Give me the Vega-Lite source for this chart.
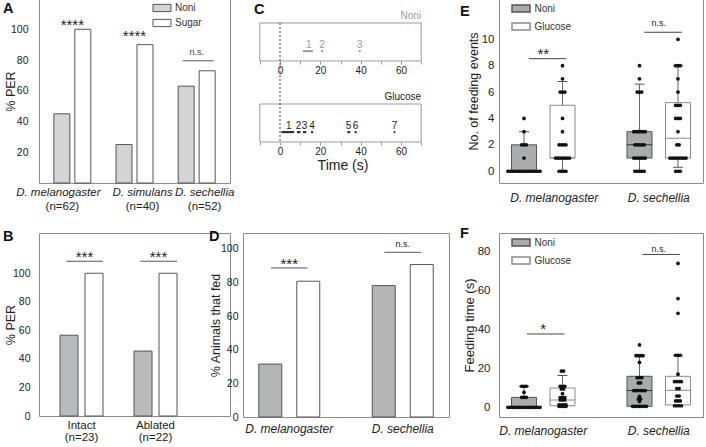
{
"$schema": "https://vega.github.io/schema/vega-lite/v6.json",
"background": "white",
"padding": {"left": 2, "top": -2, "right": 0, "bottom": 0},
"autosize": {"type": "pad"},
"columns": 3,
"spacing": {"row": 50, "column": 13},
"bounds": "flush",
"resolve": {"scale": {"fill": "independent", "color": "independent", "stroke": "independent", "xOffset": "independent"}},
"config": {
  "font": "Liberation Sans",
  "view": {"stroke": "#8c8c8c", "strokeWidth": 1},
  "axis": {"grid": false, "domain": false, "ticks": false, "labelColor": "#222", "titleColor": "#222", "labelFontSize": 10.5, "titleFontSize": 12.5, "titleFontWeight": "normal", "labelFont": "Liberation Sans", "titleFont": "Liberation Sans"},
  "legend": {"labelFontSize": 10, "labelColor": "#333", "labelFont": "Liberation Sans", "padding": 0},
  "title": {"fontSize": 14.5, "fontWeight": "bold", "anchor": "start", "frame": "group", "color": "#111", "baseline": "alphabetic", "offset": 0, "font": "Liberation Sans"},
  "text": {"font": "Liberation Sans"}
},
"concat": [
{
  "width": 191, "height": 184,
  "title": {"text": "A", "dx": -36, "dy": 21.5},
  "resolve": {"axis": {"x": "independent"}},
  "layer": [
    {
      "data": {"values": [
        {"sp": "D. melanogaster", "cond": "Noni", "v": 45},
        {"sp": "D. melanogaster", "cond": "Sugar", "v": 100},
        {"sp": "D. simulans", "cond": "Noni", "v": 25},
        {"sp": "D. simulans", "cond": "Sugar", "v": 90},
        {"sp": "D. sechellia", "cond": "Noni", "v": 63},
        {"sp": "D. sechellia", "cond": "Sugar", "v": 73}
      ]},
      "mark": {"type": "bar", "stroke": "#555", "strokeWidth": 1},
      "encoding": {
        "x": {"field": "sp", "type": "nominal", "scale": {"domain": ["D. melanogaster", "D. simulans", "D. sechellia"], "paddingInner": 0.405, "paddingOuter": 0.239}, "axis": {"orient": "bottom", "title": null, "labelAngle": 0, "labelFontStyle": "italic", "labelFontSize": 11.5, "labelPadding": 3, "labelOffset": {"condition": {"test": "datum.value == 'D. melanogaster'", "value": -14}, "value": 8}}},
        "xOffset": {"field": "cond", "type": "nominal", "scale": {"domain": ["Noni", "Sugar"], "paddingInner": 0.238, "paddingOuter": 0}},
        "y": {"field": "v", "type": "quantitative", "scale": {"domain": [0, 119.7], "nice": false, "zero": false}, "axis": {"title": "% PER", "values": [20, 40, 60, 80, 100], "labelPadding": 11, "titlePadding": -7}},
        "fill": {"field": "cond", "type": "nominal", "scale": {"domain": ["Noni", "Sugar"], "range": ["#d4d4d4", "#ffffff"]}, "legend": {"title": null, "orient": "none", "legendX": 118, "legendY": 4, "symbolType": "M-2,-0.8H2V0.8H-2Z", "symbolSize": 81, "symbolStrokeColor": "#555", "symbolStrokeWidth": 1, "labelOffset": 8, "rowPadding": 3}}
      }
    },
    {
      "data": {"values": [
        {"sp": "D. melanogaster", "v": 99.4, "t": "****"},
        {"sp": "D. simulans", "v": 92.5, "t": "****"}
      ]},
      "mark": {"type": "text", "fontSize": 15, "baseline": "alphabetic", "color": "#222"},
      "encoding": {
        "x": {"field": "sp", "type": "nominal", "scale": {"domain": ["D. melanogaster", "D. simulans", "D. sechellia"], "paddingInner": 0.405, "paddingOuter": 0.239}, "axis": null},
        "y": {"field": "v", "type": "quantitative", "scale": {"domain": [0, 119.7], "nice": false, "zero": false}, "axis": {"title": "% PER", "values": [20, 40, 60, 80, 100], "labelPadding": 11, "titlePadding": -7}},
        "text": {"field": "t"}
      }
    },
    {
      "data": {"values": [{"sp": "D. sechellia", "v": 83.2, "t": "n.s."}]},
      "mark": {"type": "text", "fontSize": 9, "baseline": "alphabetic", "color": "#444"},
      "encoding": {
        "x": {"field": "sp", "type": "nominal", "scale": {"domain": ["D. melanogaster", "D. simulans", "D. sechellia"], "paddingInner": 0.405, "paddingOuter": 0.239}, "axis": {"orient": "bottom", "title": null, "labelAngle": 0, "labelFontSize": 11.5, "labelPadding": 17, "labelOffset": {"condition": {"test": "datum.value == 'D. melanogaster'", "value": -10}, "value": 8}, "labelExpr": "datum.value == 'D. melanogaster' ? '(n=62)' : datum.value == 'D. simulans' ? '(n=40)' : '(n=52)'"}},
        "y": {"field": "v", "type": "quantitative", "scale": {"domain": [0, 119.7], "nice": false, "zero": false}, "axis": {"title": "% PER", "values": [20, 40, 60, 80, 100], "labelPadding": 11, "titlePadding": -7}},
        "text": {"field": "t"}
      }
    },
    {
      "data": {"values": [{"sp": "D. sechellia", "v": 79.5}]},
      "mark": {"type": "rule", "stroke": "#555", "strokeWidth": 1},
      "encoding": {
        "x": {"field": "sp", "type": "nominal", "bandPosition": 0.12, "scale": {"domain": ["D. melanogaster", "D. simulans", "D. sechellia"], "paddingInner": 0.405, "paddingOuter": 0.239}, "axis": null},
        "x2": {"field": "sp", "bandPosition": 0.96},
        "y": {"field": "v", "type": "quantitative", "scale": {"domain": [0, 119.7], "nice": false, "zero": false}, "axis": {"title": "% PER", "values": [20, 40, 60, 80, 100], "labelPadding": 11, "titlePadding": -7}}
      }
    }
  ]
},
{
  "width": 243, "height": 143,
  "view": {"stroke": null},
  "title": {"text": "C", "dx": 11, "dy": 22.5},
  "resolve": {"axis": {"x": "independent"}},
  "layer": [
    {
      "data": {"values": [{"cond": "Noni"}, {"cond": "Glucose"}]},
      "mark": {"type": "rect", "filled": false, "stroke": "#9a9a9a", "strokeWidth": 1},
      "encoding": {
        "x": {"datum": -10, "type": "quantitative", "scale": {"domain": [-18.35, 102.15], "nice": false, "zero": false}, "axis": null},
        "x2": {"datum": 70},
        "y": {"field": "cond", "type": "nominal", "scale": {"domain": ["Noni", "Glucose"], "paddingInner": 0.531, "paddingOuter": 0.148, "align": 1}, "axis": null}
      }
    },
    {
      "data": {"values": [{"cond": "Noni"}, {"cond": "Glucose"}]},
      "mark": {"type": "text", "align": "right", "baseline": "bottom", "dy": -2, "fontSize": 10},
      "encoding": {
        "x": {"datum": 70, "type": "quantitative", "scale": {"domain": [-18.35, 102.15], "nice": false, "zero": false}, "axis": null},
        "y": {"field": "cond", "type": "nominal", "bandPosition": 0, "scale": {"domain": ["Noni", "Glucose"], "paddingInner": 0.531, "paddingOuter": 0.148, "align": 1}, "axis": null},
        "text": {"field": "cond"},
        "color": {"field": "cond", "type": "nominal", "scale": {"domain": ["Noni", "Glucose"], "range": ["#9a9a9a", "#222222"]}, "legend": null}
      }
    },
    {
      "data": {"values": [{"t": 0}]},
      "mark": {"type": "rule", "strokeDash": [2, 2], "stroke": "#444", "strokeWidth": 1},
      "encoding": {
        "x": {"field": "t", "type": "quantitative", "scale": {"domain": [-18.35, 102.15], "nice": false, "zero": false}, "axis": null},
        "y": {"datum": "Noni", "type": "nominal", "bandPosition": 0, "scale": {"domain": ["Noni", "Glucose"], "paddingInner": 0.531, "paddingOuter": 0.148, "align": 1}, "axis": null},
        "y2": {"datum": "Glucose", "bandPosition": 1}
      }
    },
    {
      "data": {"name": "events", "values": [
        {"cond": "Noni", "n": "1", "s": 11.3, "e": 16.3, "m": 14.3},
        {"cond": "Noni", "n": "2", "s": 20.4, "e": 21.4, "m": 20.9},
        {"cond": "Noni", "n": "3", "s": 39.0, "e": 40.0, "m": 39.5},
        {"cond": "Glucose", "n": "1", "s": 0.7, "e": 7.0, "m": 4.4},
        {"cond": "Glucose", "n": "2", "s": 8.4, "e": 10.2, "m": 9.2},
        {"cond": "Glucose", "n": "3", "s": 11.4, "e": 13.0, "m": 12.2},
        {"cond": "Glucose", "n": "4", "s": 15.4, "e": 16.4, "m": 15.9},
        {"cond": "Glucose", "n": "5", "s": 33.4, "e": 34.8, "m": 34.0},
        {"cond": "Glucose", "n": "6", "s": 37.0, "e": 38.0, "m": 37.5},
        {"cond": "Glucose", "n": "7", "s": 56.4, "e": 57.2, "m": 56.8}
      ]},
      "mark": {"type": "rule", "strokeWidth": 2},
      "encoding": {
        "x": {"field": "s", "type": "quantitative", "scale": {"domain": [-18.35, 102.15], "nice": false, "zero": false}, "axis": {"orient": "bottom", "title": "Time (s)", "titleFontSize": 14, "titleX": 99.5, "titleAlign": "center", "titlePadding": 2, "values": [-10, 0, 10, 20, 30, 40, 50, 60, 70], "labelExpr": "datum.value >= 0 && datum.value % 20 == 0 ? datum.label : ''", "ticks": true, "tickSize": 3, "tickColor": "#999", "labelFontSize": 10, "labelPadding": 1}},
        "x2": {"field": "e"},
        "y": {"field": "cond", "type": "nominal", "bandPosition": 0.74, "scale": {"domain": ["Noni", "Glucose"], "paddingInner": 0.531, "paddingOuter": 0.148, "align": 1}, "axis": null},
        "color": {"field": "cond", "type": "nominal", "scale": {"domain": ["Noni", "Glucose"], "range": ["#9a9a9a", "#222222"]}, "legend": null}
      }
    },
    {
      "data": {"name": "events"},
      "mark": {"type": "text", "fontSize": 10, "baseline": "middle"},
      "encoding": {
        "x": {"field": "m", "type": "quantitative", "scale": {"domain": [-18.35, 102.15], "nice": false, "zero": false}, "axis": {"orient": "bottom", "offset": -81, "title": null, "values": [-10, 0, 10, 20, 30, 40, 50, 60, 70], "labelExpr": "datum.value >= 0 && datum.value % 20 == 0 ? datum.label : ''", "ticks": true, "tickSize": 3, "tickColor": "#999", "labelFontSize": 10, "labelPadding": 1}},
        "y": {"field": "cond", "type": "nominal", "bandPosition": 0.58, "scale": {"domain": ["Noni", "Glucose"], "paddingInner": 0.531, "paddingOuter": 0.148, "align": 1}, "axis": null},
        "text": {"field": "n"},
        "color": {"field": "cond", "type": "nominal", "scale": {"domain": ["Noni", "Glucose"], "range": ["#9a9a9a", "#222222"]}, "legend": null}
      }
    }
  ]
},
{
  "width": 204, "height": 184,
  "title": {"text": "E", "dx": -39, "dy": 24},
  "layer": [
    {
      "data": {"name": "eb", "values": [
        {"g": "mel Noni", "cond": "Noni", "q1": 0, "med": 0, "q3": 2, "lo": 0, "hi": 3},
        {"g": "mel Glucose", "cond": "Glucose", "q1": 1, "med": 1, "q3": 5, "lo": 0, "hi": 6.8},
        {"g": "sec Noni", "cond": "Noni", "q1": 1, "med": 2, "q3": 3, "lo": 0, "hi": 6.6},
        {"g": "sec Glucose", "cond": "Glucose", "q1": 1, "med": 2.5, "q3": 5.2, "lo": 0.3, "hi": 8}
      ]},
      "mark": {"type": "rule", "stroke": "#666", "strokeWidth": 1},
      "encoding": {
        "x": {"field": "g", "type": "nominal", "scale": {"domain": ["mel Noni", "D. melanogaster", "mel Glucose", "gap1", "gap2", "gap3", "sec Noni", "D. sechellia", "sec Glucose"], "paddingInner": 0, "paddingOuter": 0.8}, "axis": {"values": ["D. melanogaster", "D. sechellia"], "title": null, "labelAngle": 0, "labelFontStyle": "italic", "labelFontSize": 12, "labelPadding": 9, "labelOffset": {"condition": {"test": "datum.value == 'D. melanogaster'", "value": 11}, "value": 0}}},
        "y": {"field": "lo", "type": "quantitative", "scale": {"domain": [-0.89, 13.05], "nice": false, "zero": false}, "axis": {"title": "No. of feeding events", "values": [0, 2, 4, 6, 8, 10], "labelFontSize": 11.5, "labelPadding": 5, "titlePadding": 0.5}},
        "y2": {"field": "hi"}
      }
    },
    {
      "data": {"name": "eb"},
      "mark": {"type": "bar", "width": 25, "strokeWidth": 1},
      "encoding": {
        "x": {"field": "g", "type": "nominal", "scale": {"domain": ["mel Noni", "D. melanogaster", "mel Glucose", "gap1", "gap2", "gap3", "sec Noni", "D. sechellia", "sec Glucose"], "paddingInner": 0, "paddingOuter": 0.8}, "axis": {"values": ["D. melanogaster", "D. sechellia"], "title": null, "labelAngle": 0, "labelFontStyle": "italic", "labelFontSize": 12, "labelPadding": 9, "labelOffset": {"condition": {"test": "datum.value == 'D. melanogaster'", "value": 11}, "value": 0}}},
        "y": {"field": "q1", "type": "quantitative", "scale": {"domain": [-0.89, 13.05], "nice": false, "zero": false}, "axis": {"title": "No. of feeding events", "values": [0, 2, 4, 6, 8, 10], "labelFontSize": 11.5, "labelPadding": 5, "titlePadding": 0.5}},
        "y2": {"field": "q3"},
        "fill": {"field": "cond", "type": "nominal", "scale": {"domain": ["Noni", "Glucose"], "range": ["#a9acac", "#ffffff"]}, "legend": {"title": null, "orient": "none", "legendX": 16.5, "legendY": 4, "symbolType": "M-2,-0.8H2V0.8H-2Z", "symbolSize": 81, "labelOffset": 8, "rowPadding": 3}},
        "stroke": {"field": "cond", "type": "nominal", "scale": {"domain": ["Noni", "Glucose"], "range": ["#555555", "#8a8a8a"]}, "legend": {"title": null, "orient": "none", "legendX": 16.5, "legendY": 4, "symbolType": "M-2,-0.8H2V0.8H-2Z", "symbolSize": 81, "labelOffset": 8, "rowPadding": 3}}
      }
    },
    {
      "data": {"name": "eb"},
      "mark": {"type": "tick", "size": 25, "thickness": 1, "opacity": 1},
      "encoding": {
        "x": {"field": "g", "type": "nominal", "scale": {"domain": ["mel Noni", "D. melanogaster", "mel Glucose", "gap1", "gap2", "gap3", "sec Noni", "D. sechellia", "sec Glucose"], "paddingInner": 0, "paddingOuter": 0.8}, "axis": {"values": ["D. melanogaster", "D. sechellia"], "title": null, "labelAngle": 0, "labelFontStyle": "italic", "labelFontSize": 12, "labelPadding": 9, "labelOffset": {"condition": {"test": "datum.value == 'D. melanogaster'", "value": 11}, "value": 0}}},
        "y": {"field": "med", "type": "quantitative", "scale": {"domain": [-0.89, 13.05], "nice": false, "zero": false}, "axis": {"title": "No. of feeding events", "values": [0, 2, 4, 6, 8, 10], "labelFontSize": 11.5, "labelPadding": 5, "titlePadding": 0.5}},
        "color": {"field": "cond", "type": "nominal", "scale": {"domain": ["Noni", "Glucose"], "range": ["#333333", "#8a8a8a"]}, "legend": null}
      }
    },
    {
      "data": {"name": "eb"},
      "mark": {"type": "tick", "size": 10, "thickness": 1, "opacity": 1, "color": "#555"},
      "encoding": {
        "x": {"field": "g", "type": "nominal", "scale": {"domain": ["mel Noni", "D. melanogaster", "mel Glucose", "gap1", "gap2", "gap3", "sec Noni", "D. sechellia", "sec Glucose"], "paddingInner": 0, "paddingOuter": 0.8}, "axis": {"values": ["D. melanogaster", "D. sechellia"], "title": null, "labelAngle": 0, "labelFontStyle": "italic", "labelFontSize": 12, "labelPadding": 9, "labelOffset": {"condition": {"test": "datum.value == 'D. melanogaster'", "value": 11}, "value": 0}}},
        "y": {"field": "hi", "type": "quantitative", "scale": {"domain": [-0.89, 13.05], "nice": false, "zero": false}, "axis": {"title": "No. of feeding events", "values": [0, 2, 4, 6, 8, 10], "labelFontSize": 11.5, "labelPadding": 5, "titlePadding": 0.5}}
      }
    },
    {
      "data": {"values": [{"g": "sec Glucose", "lo": 0.3}]},
      "mark": {"type": "tick", "size": 10, "thickness": 1, "opacity": 1, "color": "#555"},
      "encoding": {
        "x": {"field": "g", "type": "nominal", "scale": {"domain": ["mel Noni", "D. melanogaster", "mel Glucose", "gap1", "gap2", "gap3", "sec Noni", "D. sechellia", "sec Glucose"], "paddingInner": 0, "paddingOuter": 0.8}, "axis": {"values": ["D. melanogaster", "D. sechellia"], "title": null, "labelAngle": 0, "labelFontStyle": "italic", "labelFontSize": 12, "labelPadding": 9, "labelOffset": {"condition": {"test": "datum.value == 'D. melanogaster'", "value": 11}, "value": 0}}},
        "y": {"field": "lo", "type": "quantitative", "scale": {"domain": [-0.89, 13.05], "nice": false, "zero": false}, "axis": {"title": "No. of feeding events", "values": [0, 2, 4, 6, 8, 10], "labelFontSize": 11.5, "labelPadding": 5, "titlePadding": 0.5}}
      }
    },
    {
      "data": {"values": [
        {"g": "mel Noni", "v": 0}, {"g": "mel Noni", "v": 0}, {"g": "mel Noni", "v": 0}, {"g": "mel Noni", "v": 0}, {"g": "mel Noni", "v": 0},
        {"g": "mel Noni", "v": 0}, {"g": "mel Noni", "v": 0}, {"g": "mel Noni", "v": 0}, {"g": "mel Noni", "v": 0}, {"g": "mel Noni", "v": 0},
        {"g": "mel Noni", "v": 0}, {"g": "mel Noni", "v": 0}, {"g": "mel Noni", "v": 0}, {"g": "mel Noni", "v": 0}, {"g": "mel Noni", "v": 0},
        {"g": "mel Noni", "v": 1}, {"g": "mel Noni", "v": 2}, {"g": "mel Noni", "v": 2}, {"g": "mel Noni", "v": 2}, {"g": "mel Noni", "v": 3}, {"g": "mel Noni", "v": 4},
        {"g": "mel Glucose", "v": 0}, {"g": "mel Glucose", "v": 0}, {"g": "mel Glucose", "v": 0}, {"g": "mel Glucose", "v": 0},
        {"g": "mel Glucose", "v": 1}, {"g": "mel Glucose", "v": 1}, {"g": "mel Glucose", "v": 1}, {"g": "mel Glucose", "v": 1}, {"g": "mel Glucose", "v": 1}, {"g": "mel Glucose", "v": 1}, {"g": "mel Glucose", "v": 1},
        {"g": "mel Glucose", "v": 2}, {"g": "mel Glucose", "v": 2}, {"g": "mel Glucose", "v": 2}, {"g": "mel Glucose", "v": 2},
        {"g": "mel Glucose", "v": 3}, {"g": "mel Glucose", "v": 4}, {"g": "mel Glucose", "v": 6}, {"g": "mel Glucose", "v": 6}, {"g": "mel Glucose", "v": 6}, {"g": "mel Glucose", "v": 7}, {"g": "mel Glucose", "v": 8},
        {"g": "sec Noni", "v": 0}, {"g": "sec Noni", "v": 0}, {"g": "sec Noni", "v": 0}, {"g": "sec Noni", "v": 0}, {"g": "sec Noni", "v": 0},
        {"g": "sec Noni", "v": 1}, {"g": "sec Noni", "v": 1}, {"g": "sec Noni", "v": 1}, {"g": "sec Noni", "v": 1}, {"g": "sec Noni", "v": 1}, {"g": "sec Noni", "v": 1},
        {"g": "sec Noni", "v": 2}, {"g": "sec Noni", "v": 2}, {"g": "sec Noni", "v": 2}, {"g": "sec Noni", "v": 2}, {"g": "sec Noni", "v": 2},
        {"g": "sec Noni", "v": 3}, {"g": "sec Noni", "v": 3}, {"g": "sec Noni", "v": 3}, {"g": "sec Noni", "v": 3}, {"g": "sec Noni", "v": 3}, {"g": "sec Noni", "v": 3},
        {"g": "sec Noni", "v": 6}, {"g": "sec Noni", "v": 6}, {"g": "sec Noni", "v": 6}, {"g": "sec Noni", "v": 7}, {"g": "sec Noni", "v": 8},
        {"g": "sec Glucose", "v": 0}, {"g": "sec Glucose", "v": 0}, {"g": "sec Glucose", "v": 0},
        {"g": "sec Glucose", "v": 1}, {"g": "sec Glucose", "v": 1}, {"g": "sec Glucose", "v": 1}, {"g": "sec Glucose", "v": 1}, {"g": "sec Glucose", "v": 1}, {"g": "sec Glucose", "v": 1}, {"g": "sec Glucose", "v": 1}, {"g": "sec Glucose", "v": 1},
        {"g": "sec Glucose", "v": 2}, {"g": "sec Glucose", "v": 2}, {"g": "sec Glucose", "v": 3},
        {"g": "sec Glucose", "v": 4}, {"g": "sec Glucose", "v": 4}, {"g": "sec Glucose", "v": 4},
        {"g": "sec Glucose", "v": 5}, {"g": "sec Glucose", "v": 5}, {"g": "sec Glucose", "v": 5},
        {"g": "sec Glucose", "v": 6}, {"g": "sec Glucose", "v": 7},
        {"g": "sec Glucose", "v": 8}, {"g": "sec Glucose", "v": 8}, {"g": "sec Glucose", "v": 8}, {"g": "sec Glucose", "v": 10}
      ]},
      "transform": [
        {"window": [{"op": "count", "as": "one"}], "groupby": ["g", "v"], "frame": [0, 0]},
        {"stack": "one", "groupby": ["g", "v"], "offset": "center", "as": ["s0", "s1"]}
      ],
      "mark": {"type": "point", "filled": true, "size": 14, "color": "#111", "opacity": 1},
      "encoding": {
        "x": {"field": "g", "type": "nominal", "scale": {"domain": ["mel Noni", "D. melanogaster", "mel Glucose", "gap1", "gap2", "gap3", "sec Noni", "D. sechellia", "sec Glucose"], "paddingInner": 0, "paddingOuter": 0.8}, "axis": {"values": ["D. melanogaster", "D. sechellia"], "title": null, "labelAngle": 0, "labelFontStyle": "italic", "labelFontSize": 12, "labelPadding": 9, "labelOffset": {"condition": {"test": "datum.value == 'D. melanogaster'", "value": 11}, "value": 0}}},
        "xOffset": {"field": "s0", "type": "quantitative", "scale": {"domain": [2.8, 11.2], "nice": false, "zero": false}},
        "y": {"field": "v", "type": "quantitative", "scale": {"domain": [-0.89, 13.05], "nice": false, "zero": false}, "axis": {"title": "No. of feeding events", "values": [0, 2, 4, 6, 8, 10], "labelFontSize": 11.5, "labelPadding": 5, "titlePadding": 0.5}}
      }
    },
    {
      "data": {"values": [
        {"g1": "mel Noni", "g2": "mel Glucose", "v": 8.53},
        {"g1": "sec Noni", "g2": "sec Glucose", "v": 10.53}
      ]},
      "mark": {"type": "rule", "stroke": "#444", "strokeWidth": 1},
      "encoding": {
        "x": {"field": "g1", "type": "nominal", "bandPosition": 0.75, "scale": {"domain": ["mel Noni", "D. melanogaster", "mel Glucose", "gap1", "gap2", "gap3", "sec Noni", "D. sechellia", "sec Glucose"], "paddingInner": 0, "paddingOuter": 0.8}, "axis": {"values": ["D. melanogaster", "D. sechellia"], "title": null, "labelAngle": 0, "labelFontStyle": "italic", "labelFontSize": 12, "labelPadding": 9, "labelOffset": {"condition": {"test": "datum.value == 'D. melanogaster'", "value": 11}, "value": 0}}},
        "x2": {"field": "g2", "bandPosition": 0.7},
        "y": {"field": "v", "type": "quantitative", "scale": {"domain": [-0.89, 13.05], "nice": false, "zero": false}, "axis": {"title": "No. of feeding events", "values": [0, 2, 4, 6, 8, 10], "labelFontSize": 11.5, "labelPadding": 5, "titlePadding": 0.5}}
      }
    },
    {
      "data": {"values": [
        {"g": "D. melanogaster", "v": 8.48, "t": "**", "fs": "a"},
        {"g": "D. sechellia", "v": 11.0, "t": "n.s.", "fs": "b"}
      ]},
      "mark": {"type": "text", "baseline": "alphabetic", "color": "#222"},
      "encoding": {
        "x": {"field": "g", "type": "nominal", "scale": {"domain": ["mel Noni", "D. melanogaster", "mel Glucose", "gap1", "gap2", "gap3", "sec Noni", "D. sechellia", "sec Glucose"], "paddingInner": 0, "paddingOuter": 0.8}, "axis": {"values": ["D. melanogaster", "D. sechellia"], "title": null, "labelAngle": 0, "labelFontStyle": "italic", "labelFontSize": 12, "labelPadding": 9, "labelOffset": {"condition": {"test": "datum.value == 'D. melanogaster'", "value": 11}, "value": 0}}},
        "y": {"field": "v", "type": "quantitative", "scale": {"domain": [-0.89, 13.05], "nice": false, "zero": false}, "axis": {"title": "No. of feeding events", "values": [0, 2, 4, 6, 8, 10], "labelFontSize": 11.5, "labelPadding": 5, "titlePadding": 0.5}},
        "text": {"field": "t"},
        "size": {"field": "fs", "type": "nominal", "scale": {"domain": ["a", "b"], "range": [15, 9]}, "legend": null}
      }
    }
  ]
},
{
  "width": 191, "height": 183,
  "title": {"text": "B", "dx": -36, "dy": 15.5},
  "resolve": {"axis": {"x": "independent"}},
  "layer": [
    {
      "data": {"values": [
        {"sp": "Intact", "cond": "Noni", "v": 56.6},
        {"sp": "Intact", "cond": "Sugar", "v": 100},
        {"sp": "Ablated", "cond": "Noni", "v": 45.5},
        {"sp": "Ablated", "cond": "Sugar", "v": 100}
      ]},
      "mark": {"type": "bar", "stroke": "#555", "strokeWidth": 1},
      "encoding": {
        "x": {"field": "sp", "type": "nominal", "scale": {"domain": ["Intact", "Ablated"], "paddingInner": 0.419, "paddingOuter": 0.5, "align": 0.284}, "axis": {"orient": "bottom", "title": null, "labelAngle": 0, "labelFontSize": 11.5, "labelPadding": 3, "labelLineHeight": 12.5, "labelExpr": "datum.value == 'Intact' ? ['Intact', '(n=23)'] : ['Ablated', '(n=22)']"}},
        "xOffset": {"field": "cond", "type": "nominal", "scale": {"domain": ["Noni", "Sugar"], "paddingInner": 0.28, "paddingOuter": 0}},
        "y": {"field": "v", "type": "quantitative", "scale": {"domain": [0, 128.2], "nice": false, "zero": false}, "axis": {"title": "% PER", "values": [0, 20, 40, 60, 80, 100], "labelPadding": 9, "titlePadding": -5.5}},
        "fill": {"field": "cond", "type": "nominal", "scale": {"domain": ["Noni", "Sugar"], "range": ["#b9bcbc", "#ffffff"]}, "legend": null}
      }
    },
    {
      "data": {"values": [
        {"sp": "Intact", "v": 107.8, "t": "***"},
        {"sp": "Ablated", "v": 107.8, "t": "***"}
      ]},
      "mark": {"type": "text", "fontSize": 15, "baseline": "alphabetic", "color": "#222", "dx": 3},
      "encoding": {
        "x": {"field": "sp", "type": "nominal", "scale": {"domain": ["Intact", "Ablated"], "paddingInner": 0.419, "paddingOuter": 0.5, "align": 0.284}, "axis": null},
        "y": {"field": "v", "type": "quantitative", "scale": {"domain": [0, 128.2], "nice": false, "zero": false}, "axis": {"title": "% PER", "values": [0, 20, 40, 60, 80, 100], "labelPadding": 9, "titlePadding": -5.5}},
        "text": {"field": "t"}
      }
    },
    {
      "data": {"values": [
        {"sp": "Intact", "v": 108.4},
        {"sp": "Ablated", "v": 108.4}
      ]},
      "mark": {"type": "rule", "stroke": "#555", "strokeWidth": 1},
      "encoding": {
        "x": {"field": "sp", "type": "nominal", "bandPosition": 0.15, "scale": {"domain": ["Intact", "Ablated"], "paddingInner": 0.419, "paddingOuter": 0.5, "align": 0.284}, "axis": null},
        "x2": {"field": "sp", "bandPosition": 1.0},
        "y": {"field": "v", "type": "quantitative", "scale": {"domain": [0, 128.2], "nice": false, "zero": false}, "axis": {"title": "% PER", "values": [0, 20, 40, 60, 80, 100], "labelPadding": 9, "titlePadding": -5.5}}
      }
    }
  ]
},
{
  "width": 206, "height": 184,
  "title": {"text": "D", "dx": -34, "dy": 15.5},
  "resolve": {"axis": {"x": "independent"}},
  "layer": [
    {
      "data": {"values": [
        {"sp": "D. melanogaster", "cond": "Noni", "v": 31.5},
        {"sp": "D. melanogaster", "cond": "Glucose", "v": 80.8},
        {"sp": "D. sechellia", "cond": "Noni", "v": 78.2},
        {"sp": "D. sechellia", "cond": "Glucose", "v": 90.7}
      ]},
      "mark": {"type": "bar", "stroke": "#555", "strokeWidth": 1},
      "encoding": {
        "x": {"field": "sp", "type": "nominal", "scale": {"domain": ["D. melanogaster", "D. sechellia"], "paddingInner": 0.4626, "paddingOuter": 0.139}, "axis": {"orient": "bottom", "title": null, "labelAngle": 0, "labelFontStyle": "italic", "labelFontSize": 12, "labelPadding": 6}},
        "xOffset": {"field": "cond", "type": "nominal", "scale": {"domain": ["Noni", "Glucose"], "paddingInner": 0.395, "paddingOuter": 0}},
        "y": {"field": "v", "type": "quantitative", "scale": {"domain": [0, 109.5], "nice": false, "zero": false}, "axis": {"title": "% Animals that fed", "values": [0, 20, 40, 60, 80, 100], "labelPadding": 5, "titlePadding": -2.5}},
        "fill": {"field": "cond", "type": "nominal", "scale": {"domain": ["Noni", "Glucose"], "range": ["#b3b6b6", "#ffffff"]}, "legend": null}
      }
    },
    {
      "data": {"values": [
        {"sp": "D. melanogaster", "v": 87.9, "t": "***", "fs": "a"},
        {"sp": "D. sechellia", "v": 101.0, "t": "n.s.", "fs": "b"}
      ]},
      "mark": {"type": "text", "baseline": "alphabetic", "color": "#222"},
      "encoding": {
        "x": {"field": "sp", "type": "nominal", "scale": {"domain": ["D. melanogaster", "D. sechellia"], "paddingInner": 0.4626, "paddingOuter": 0.139}, "axis": null},
        "y": {"field": "v", "type": "quantitative", "scale": {"domain": [0, 109.5], "nice": false, "zero": false}, "axis": {"title": "% Animals that fed", "values": [0, 20, 40, 60, 80, 100], "labelPadding": 5, "titlePadding": -2.5}},
        "text": {"field": "t"},
        "size": {"field": "fs", "type": "nominal", "scale": {"domain": ["a", "b"], "range": [15, 9]}, "legend": null}
      }
    },
    {
      "data": {"values": [
        {"sp": "D. melanogaster", "v": 88.7},
        {"sp": "D. sechellia", "v": 98.0}
      ]},
      "mark": {"type": "rule", "stroke": "#555", "strokeWidth": 1},
      "encoding": {
        "x": {"field": "sp", "type": "nominal", "bandPosition": 0.2, "scale": {"domain": ["D. melanogaster", "D. sechellia"], "paddingInner": 0.4626, "paddingOuter": 0.139}, "axis": null},
        "x2": {"field": "sp", "bandPosition": 0.8},
        "y": {"field": "v", "type": "quantitative", "scale": {"domain": [0, 109.5], "nice": false, "zero": false}, "axis": {"title": "% Animals that fed", "values": [0, 20, 40, 60, 80, 100], "labelPadding": 5, "titlePadding": -2.5}}
      }
    }
  ]
},
{
  "width": 204, "height": 184,
  "title": {"text": "F", "dx": -39, "dy": 12},
  "layer": [
    {
      "data": {"name": "fb", "values": [
        {"g": "mel Noni", "cond": "Noni", "q1": 0, "med": 0, "q3": 5.1, "lo": 0, "hi": 10.8},
        {"g": "mel Glucose", "cond": "Glucose", "q1": 0.8, "med": 3.8, "q3": 9.9, "lo": 0.5, "hi": 16.3},
        {"g": "sec Noni", "cond": "Noni", "q1": 0.5, "med": 8.6, "q3": 15.9, "lo": 0.5, "hi": 26.5},
        {"g": "sec Glucose", "cond": "Glucose", "q1": 1.2, "med": 8.7, "q3": 15.9, "lo": 0.8, "hi": 26.5}
      ]},
      "mark": {"type": "rule", "stroke": "#666", "strokeWidth": 1},
      "encoding": {
        "x": {"field": "g", "type": "nominal", "scale": {"domain": ["mel Noni", "D. melanogaster", "mel Glucose", "gap1", "gap2", "gap3", "sec Noni", "D. sechellia", "sec Glucose"], "paddingInner": 0, "paddingOuter": 0.8}, "axis": {"values": ["D. melanogaster", "D. sechellia"], "title": null, "labelAngle": 0, "labelFontStyle": "italic", "labelFontSize": 12, "labelPadding": 8}},
        "y": {"field": "lo", "type": "quantitative", "scale": {"domain": [-4.97, 89.4], "nice": false, "zero": false}, "axis": {"title": "Feeding time (s)", "titleFontSize": 13, "values": [0, 20, 40, 60, 80], "labelFontSize": 11.5, "labelPadding": 9, "titlePadding": 0.5}},
        "y2": {"field": "hi"}
      }
    },
    {
      "data": {"name": "fb"},
      "mark": {"type": "bar", "width": 25, "strokeWidth": 1},
      "encoding": {
        "x": {"field": "g", "type": "nominal", "scale": {"domain": ["mel Noni", "D. melanogaster", "mel Glucose", "gap1", "gap2", "gap3", "sec Noni", "D. sechellia", "sec Glucose"], "paddingInner": 0, "paddingOuter": 0.8}, "axis": {"values": ["D. melanogaster", "D. sechellia"], "title": null, "labelAngle": 0, "labelFontStyle": "italic", "labelFontSize": 12, "labelPadding": 8}},
        "y": {"field": "q1", "type": "quantitative", "scale": {"domain": [-4.97, 89.4], "nice": false, "zero": false}, "axis": {"title": "Feeding time (s)", "titleFontSize": 13, "values": [0, 20, 40, 60, 80], "labelFontSize": 11.5, "labelPadding": 9, "titlePadding": 0.5}},
        "y2": {"field": "q3"},
        "fill": {"field": "cond", "type": "nominal", "scale": {"domain": ["Noni", "Glucose"], "range": ["#a9acac", "#ffffff"]}, "legend": {"title": null, "orient": "none", "legendX": 16.5, "legendY": 4, "symbolType": "M-2,-0.8H2V0.8H-2Z", "symbolSize": 81, "labelOffset": 8, "rowPadding": 3}},
        "stroke": {"field": "cond", "type": "nominal", "scale": {"domain": ["Noni", "Glucose"], "range": ["#555555", "#8a8a8a"]}, "legend": {"title": null, "orient": "none", "legendX": 16.5, "legendY": 4, "symbolType": "M-2,-0.8H2V0.8H-2Z", "symbolSize": 81, "labelOffset": 8, "rowPadding": 3}}
      }
    },
    {
      "data": {"name": "fb"},
      "mark": {"type": "tick", "size": 25, "thickness": 1, "opacity": 1},
      "encoding": {
        "x": {"field": "g", "type": "nominal", "scale": {"domain": ["mel Noni", "D. melanogaster", "mel Glucose", "gap1", "gap2", "gap3", "sec Noni", "D. sechellia", "sec Glucose"], "paddingInner": 0, "paddingOuter": 0.8}, "axis": {"values": ["D. melanogaster", "D. sechellia"], "title": null, "labelAngle": 0, "labelFontStyle": "italic", "labelFontSize": 12, "labelPadding": 8}},
        "y": {"field": "med", "type": "quantitative", "scale": {"domain": [-4.97, 89.4], "nice": false, "zero": false}, "axis": {"title": "Feeding time (s)", "titleFontSize": 13, "values": [0, 20, 40, 60, 80], "labelFontSize": 11.5, "labelPadding": 9, "titlePadding": 0.5}},
        "color": {"field": "cond", "type": "nominal", "scale": {"domain": ["Noni", "Glucose"], "range": ["#333333", "#8a8a8a"]}, "legend": null}
      }
    },
    {
      "data": {"name": "fb"},
      "mark": {"type": "tick", "size": 10, "thickness": 1, "opacity": 1, "color": "#555"},
      "encoding": {
        "x": {"field": "g", "type": "nominal", "scale": {"domain": ["mel Noni", "D. melanogaster", "mel Glucose", "gap1", "gap2", "gap3", "sec Noni", "D. sechellia", "sec Glucose"], "paddingInner": 0, "paddingOuter": 0.8}, "axis": {"values": ["D. melanogaster", "D. sechellia"], "title": null, "labelAngle": 0, "labelFontStyle": "italic", "labelFontSize": 12, "labelPadding": 8}},
        "y": {"field": "hi", "type": "quantitative", "scale": {"domain": [-4.97, 89.4], "nice": false, "zero": false}, "axis": {"title": "Feeding time (s)", "titleFontSize": 13, "values": [0, 20, 40, 60, 80], "labelFontSize": 11.5, "labelPadding": 9, "titlePadding": 0.5}}
      }
    },
    {
      "data": {"values": [
        {"g": "mel Noni", "v": 0}, {"g": "mel Noni", "v": 0}, {"g": "mel Noni", "v": 0}, {"g": "mel Noni", "v": 0}, {"g": "mel Noni", "v": 0},
        {"g": "mel Noni", "v": 0}, {"g": "mel Noni", "v": 0}, {"g": "mel Noni", "v": 0}, {"g": "mel Noni", "v": 0}, {"g": "mel Noni", "v": 0},
        {"g": "mel Noni", "v": 0}, {"g": "mel Noni", "v": 0}, {"g": "mel Noni", "v": 0}, {"g": "mel Noni", "v": 0}, {"g": "mel Noni", "v": 0},
        {"g": "mel Noni", "v": 5.1}, {"g": "mel Noni", "v": 5.1}, {"g": "mel Noni", "v": 5.1}, {"g": "mel Noni", "v": 7.7},
        {"g": "mel Noni", "v": 10.8}, {"g": "mel Noni", "v": 10.8}, {"g": "mel Noni", "v": 10.8},
        {"g": "mel Glucose", "v": 18.6}, {"g": "mel Glucose", "v": 18.6},
        {"g": "mel Glucose", "v": 10.8}, {"g": "mel Glucose", "v": 10.8}, {"g": "mel Glucose", "v": 10.8},
        {"g": "mel Glucose", "v": 9.4}, {"g": "mel Glucose", "v": 9.4}, {"g": "mel Glucose", "v": 7},
        {"g": "mel Glucose", "v": 5}, {"g": "mel Glucose", "v": 5}, {"g": "mel Glucose", "v": 5},
        {"g": "mel Glucose", "v": 3.8}, {"g": "mel Glucose", "v": 3.8}, {"g": "mel Glucose", "v": 3.8},
        {"g": "mel Glucose", "v": 1.2}, {"g": "mel Glucose", "v": 1.2}, {"g": "mel Glucose", "v": 1.2}, {"g": "mel Glucose", "v": 1.2},
        {"g": "mel Glucose", "v": 0.5}, {"g": "mel Glucose", "v": 0.5}, {"g": "mel Glucose", "v": 0.5}, {"g": "mel Glucose", "v": 0.5},
        {"g": "sec Noni", "v": 32}, {"g": "sec Noni", "v": 26.5}, {"g": "sec Noni", "v": 26.5}, {"g": "sec Noni", "v": 26.5}, {"g": "sec Noni", "v": 26.5},
        {"g": "sec Noni", "v": 23}, {"g": "sec Noni", "v": 15.2}, {"g": "sec Noni", "v": 15.2}, {"g": "sec Noni", "v": 15.2},
        {"g": "sec Noni", "v": 12.5}, {"g": "sec Noni", "v": 12.5},
        {"g": "sec Noni", "v": 8.6}, {"g": "sec Noni", "v": 8.6}, {"g": "sec Noni", "v": 8.6}, {"g": "sec Noni", "v": 8.6}, {"g": "sec Noni", "v": 8.6}, {"g": "sec Noni", "v": 8.6},
        {"g": "sec Noni", "v": 5.6}, {"g": "sec Noni", "v": 4.2}, {"g": "sec Noni", "v": 4.2}, {"g": "sec Noni", "v": 3},
        {"g": "sec Noni", "v": 0.5}, {"g": "sec Noni", "v": 0.5}, {"g": "sec Noni", "v": 0.5}, {"g": "sec Noni", "v": 0.5}, {"g": "sec Noni", "v": 0.5}, {"g": "sec Noni", "v": 0.5}, {"g": "sec Noni", "v": 0.5},
        {"g": "sec Glucose", "v": 73.8}, {"g": "sec Glucose", "v": 55.8}, {"g": "sec Glucose", "v": 48.2},
        {"g": "sec Glucose", "v": 26.7}, {"g": "sec Glucose", "v": 26.7}, {"g": "sec Glucose", "v": 26.7}, {"g": "sec Glucose", "v": 17},
        {"g": "sec Glucose", "v": 13.2}, {"g": "sec Glucose", "v": 13.2}, {"g": "sec Glucose", "v": 13.2}, {"g": "sec Glucose", "v": 13.2},
        {"g": "sec Glucose", "v": 9.6}, {"g": "sec Glucose", "v": 9.6}, {"g": "sec Glucose", "v": 5.8}, {"g": "sec Glucose", "v": 5.8},
        {"g": "sec Glucose", "v": 3.3}, {"g": "sec Glucose", "v": 3.3}, {"g": "sec Glucose", "v": 3.3},
        {"g": "sec Glucose", "v": 0.8}, {"g": "sec Glucose", "v": 0.8}, {"g": "sec Glucose", "v": 0.8}, {"g": "sec Glucose", "v": 0.8}
      ]},
      "transform": [
        {"window": [{"op": "count", "as": "one"}], "groupby": ["g", "v"], "frame": [0, 0]},
        {"stack": "one", "groupby": ["g", "v"], "offset": "center", "as": ["s0", "s1"]}
      ],
      "mark": {"type": "point", "filled": true, "size": 14, "color": "#111", "opacity": 1},
      "encoding": {
        "x": {"field": "g", "type": "nominal", "scale": {"domain": ["mel Noni", "D. melanogaster", "mel Glucose", "gap1", "gap2", "gap3", "sec Noni", "D. sechellia", "sec Glucose"], "paddingInner": 0, "paddingOuter": 0.8}, "axis": {"values": ["D. melanogaster", "D. sechellia"], "title": null, "labelAngle": 0, "labelFontStyle": "italic", "labelFontSize": 12, "labelPadding": 8}},
        "xOffset": {"field": "s0", "type": "quantitative", "scale": {"domain": [2.8, 11.2], "nice": false, "zero": false}},
        "y": {"field": "v", "type": "quantitative", "scale": {"domain": [-4.97, 89.4], "nice": false, "zero": false}, "axis": {"title": "Feeding time (s)", "titleFontSize": 13, "values": [0, 20, 40, 60, 80], "labelFontSize": 11.5, "labelPadding": 9, "titlePadding": 0.5}}
      }
    },
    {
      "data": {"values": [
        {"g1": "mel Noni", "g2": "mel Glucose", "v": 37.6},
        {"g1": "sec Noni", "g2": "sec Glucose", "v": 78.4}
      ]},
      "mark": {"type": "rule", "stroke": "#444", "strokeWidth": 1},
      "encoding": {
        "x": {"field": "g1", "type": "nominal", "bandPosition": 0.65, "scale": {"domain": ["mel Noni", "D. melanogaster", "mel Glucose", "gap1", "gap2", "gap3", "sec Noni", "D. sechellia", "sec Glucose"], "paddingInner": 0, "paddingOuter": 0.8}, "axis": {"values": ["D. melanogaster", "D. sechellia"], "title": null, "labelAngle": 0, "labelFontStyle": "italic", "labelFontSize": 12, "labelPadding": 8}},
        "x2": {"field": "g2", "bandPosition": 0.6},
        "y": {"field": "v", "type": "quantitative", "scale": {"domain": [-4.97, 89.4], "nice": false, "zero": false}, "axis": {"title": "Feeding time (s)", "titleFontSize": 13, "values": [0, 20, 40, 60, 80], "labelFontSize": 11.5, "labelPadding": 9, "titlePadding": 0.5}}
      }
    },
    {
      "data": {"values": [
        {"g": "D. melanogaster", "v": 37.4, "t": "*", "fs": "a"},
        {"g": "D. sechellia", "v": 79.5, "t": "n.s.", "fs": "b"}
      ]},
      "mark": {"type": "text", "baseline": "alphabetic", "color": "#222"},
      "encoding": {
        "x": {"field": "g", "type": "nominal", "scale": {"domain": ["mel Noni", "D. melanogaster", "mel Glucose", "gap1", "gap2", "gap3", "sec Noni", "D. sechellia", "sec Glucose"], "paddingInner": 0, "paddingOuter": 0.8}, "axis": {"values": ["D. melanogaster", "D. sechellia"], "title": null, "labelAngle": 0, "labelFontStyle": "italic", "labelFontSize": 12, "labelPadding": 8}},
        "y": {"field": "v", "type": "quantitative", "scale": {"domain": [-4.97, 89.4], "nice": false, "zero": false}, "axis": {"title": "Feeding time (s)", "titleFontSize": 13, "values": [0, 20, 40, 60, 80], "labelFontSize": 11.5, "labelPadding": 9, "titlePadding": 0.5}},
        "text": {"field": "t"},
        "size": {"field": "fs", "type": "nominal", "scale": {"domain": ["a", "b"], "range": [15, 9]}, "legend": null}
      }
    }
  ]
}
]
}
